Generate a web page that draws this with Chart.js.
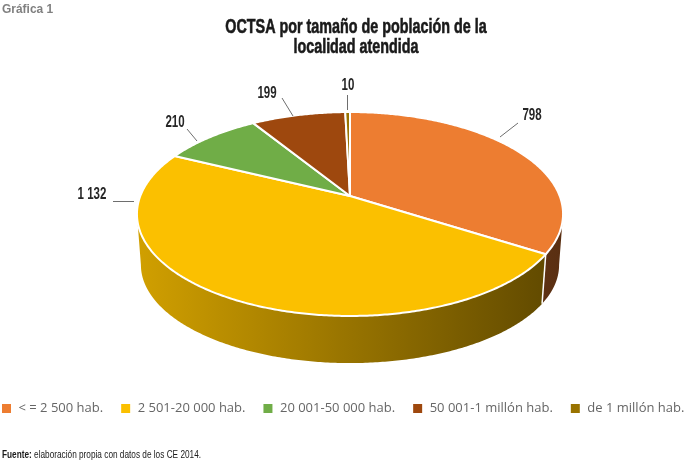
<!DOCTYPE html>
<html>
<head>
<meta charset="utf-8">
<style>
  html, body { margin: 0; padding: 0; background: #fff; }
  #wrap { width: 688px; height: 463px; }
</style>
<script src="https://cdn.jsdelivr.net/npm/chart.js@4/dist/chart.umd.min.js"></script>
</head>
<body>
<div id="wrap"><canvas id="chart"></canvas></div>
<script>
const categories = ['< = 2 500 hab.', '2 501-20 000 hab.', '20 001-50 000 hab.', '50 001-1 millón hab.', 'de 1 millón hab.'];
const values = [798, 1132, 210, 199, 10];
const valueLabels = ['798', '1 132', '210', '199', '10'];
const colors = ['#ED7D31', '#FBC000', '#70AD47', '#9E480E', '#997300'];
const titleLines = ['OCTSA por tamaño de población de la', 'localidad atendida'];

const sans = '"Liberation Sans", sans-serif';

// the 3d look: circle -> perspective ellipse, top rim and bottom rim
const tilt = 0.1765;
const topRim = { x: 350, y: 196, a: 209.7, b: 98.8 };
const lowRim = { x: 350, y: 247.7, a: 205.8, b: 95 };
const visibleFrom = Math.asin(tilt);
const visibleTo = Math.PI - visibleFrom;

function project(rim, angle) {
  const w = 1 - tilt * Math.sin(angle);
  return [rim.x + rim.a * Math.cos(angle) / w, rim.y + rim.b * Math.sin(angle) / w];
}

function rimPoints(rim, from, to) {
  const pts = [];
  const steps = Math.max(2, Math.ceil(Math.abs(to - from) / 0.01));
  for (let i = 0; i <= steps; i++) pts.push(project(rim, from + (to - from) * i / steps));
  return pts;
}

function tracePath(ctx, pts) {
  ctx.beginPath();
  pts.forEach((p, i) => i ? ctx.lineTo(p[0], p[1]) : ctx.moveTo(p[0], p[1]));
  ctx.closePath();
}

function shade(hex, k) {
  const n = parseInt(hex.slice(1), 16);
  return `rgb(${(n >> 16) * k | 0},${((n >> 8) & 255) * k | 0},${(n & 255) * k | 0})`;
}

// no condensed font here, so squeeze the text sideways
function squeezedText(ctx, text, x, y, squeeze, thicken) {
  ctx.save();
  ctx.translate(x, y);
  ctx.scale(squeeze, 1);
  ctx.fillText(text, 0, 0);
  if (thicken) {
    ctx.strokeStyle = ctx.fillStyle;
    ctx.lineWidth = thicken;
    ctx.strokeText(text, 0, 0);
  }
  ctx.restore();
}

const pie3d = {
  id: 'pie3d',
  beforeDatasetDraw(chart, args) {
    const ctx = chart.ctx;
    const arcs = args.meta.data;
    ctx.save();
    ctx.lineJoin = 'round';

    // side wall, only the front part shows
    arcs.forEach(arc => {
      const from = Math.max(arc.startAngle, visibleFrom);
      const to = Math.min(arc.endAngle, visibleTo);
      if (to <= from) return;
      const color = arc.options.backgroundColor;
      const grad = ctx.createLinearGradient(140, 0, 560, 0);
      grad.addColorStop(0, shade(color, 0.83));
      grad.addColorStop(0.95, shade(color, 0.40));
      grad.addColorStop(1, shade(color, 0.38));
      tracePath(ctx, rimPoints(topRim, from, to).concat(rimPoints(lowRim, to, from)));
      ctx.fillStyle = grad;
      ctx.fill();
    });
    arcs.forEach(arc => {
      if (arc.startAngle < visibleFrom || arc.startAngle > visibleTo) return;
      const a = project(topRim, arc.startAngle);
      const b = project(lowRim, arc.startAngle);
      ctx.beginPath();
      ctx.moveTo(a[0], a[1]);
      ctx.lineTo(b[0], b[1]);
      ctx.strokeStyle = '#fff';
      ctx.lineWidth = 1.5;
      ctx.stroke();
    });

    // top face
    arcs.forEach(arc => {
      tracePath(ctx, [[topRim.x, topRim.y]].concat(rimPoints(topRim, arc.startAngle, arc.endAngle)));
      ctx.fillStyle = arc.options.backgroundColor;
      ctx.fill();
      ctx.strokeStyle = arc.options.borderColor;
      ctx.lineWidth = arc.options.borderWidth;
      ctx.stroke();
    });
    ctx.restore();
    return false;
  },
  afterDraw(chart) {
    const ctx = chart.ctx;
    ctx.save();
    ctx.textBaseline = 'middle';

    ctx.fillStyle = '#808080';
    ctx.font = 'bold 13px ' + sans;
    ctx.textAlign = 'left';
    squeezedText(ctx, 'Gráfica 1', 2, 9, 0.92);

    ctx.fillStyle = '#1a1a1a';
    ctx.font = 'bold 20px ' + sans;
    ctx.textAlign = 'center';
    titleLines.forEach((line, i) => squeezedText(ctx, line, 356, 27.5 + i * 20, 0.717, 0.6));

    // value labels with their leader lines
    const labelSpots = [[532, 116], [92, 195], [175, 123], [267, 94], [348, 86]];
    const leaders = [[[500, 137], [518, 123]], [[113, 201.5], [134, 201.5]], [[187, 129], [197, 141]], [[282, 98], [293, 116]], [[347.5, 95], [347.5, 110]]];
    ctx.font = 'bold 16px ' + sans;
    valueLabels.forEach((text, i) => {
      ctx.fillStyle = '#262626';
      squeezedText(ctx, text, labelSpots[i][0], labelSpots[i][1], 0.72);
      ctx.beginPath();
      ctx.moveTo(leaders[i][0][0], leaders[i][0][1]);
      ctx.lineTo(leaders[i][1][0], leaders[i][1][1]);
      ctx.strokeStyle = '#6e6e6e';
      ctx.lineWidth = 1;
      ctx.stroke();
    });

    // source note
    ctx.textAlign = 'left';
    ctx.fillStyle = '#1a1a1a';
    ctx.font = 'bold 11px ' + sans;
    squeezedText(ctx, 'Fuente:', 2, 455, 0.75);
    const w = ctx.measureText('Fuente: ').width * 0.75;
    ctx.font = '11px ' + sans;
    squeezedText(ctx, 'elaboración propia con datos de los CE 2014.', 2 + w, 455, 0.75);
    ctx.restore();
  },
  beforeLayout(chart) {
    // legend row is as wide as the page, stop it from wrapping the last item
    const legend = chart.legend;
    if (legend.fitPatched) return;
    const fit = legend.fit;
    legend.fit = function () {
      this.maxWidth += 60;
      fit.call(this);
      this.maxWidth -= 60;
    };
    legend.fitPatched = true;
  },
  afterLayout(chart) {
    chart.legend.left = 1 - chart.options.plugins.legend.labels.padding;
    chart.legend.right = chart.width + 60;
  }
};

new Chart(document.getElementById('chart'), {
  type: 'pie',
  data: {
    labels: categories,
    datasets: [{
      data: values,
      backgroundColor: colors,
      borderColor: '#fff',
      borderWidth: 2
    }]
  },
  options: {
    responsive: true,
    maintainAspectRatio: false,
    animation: false,
    layout: { padding: { bottom: 38 } },
    plugins: {
      tooltip: { enabled: false },
      legend: {
        position: 'bottom',
        align: 'start',
        labels: {
          boxWidth: 11,
          boxHeight: 11,
          padding: 17,
          color: '#666666',
          font: { family: '"Open Sans", sans-serif', size: 13 }
        }
      }
    }
  },
  plugins: [pie3d]
});
</script>
</body>
</html>
